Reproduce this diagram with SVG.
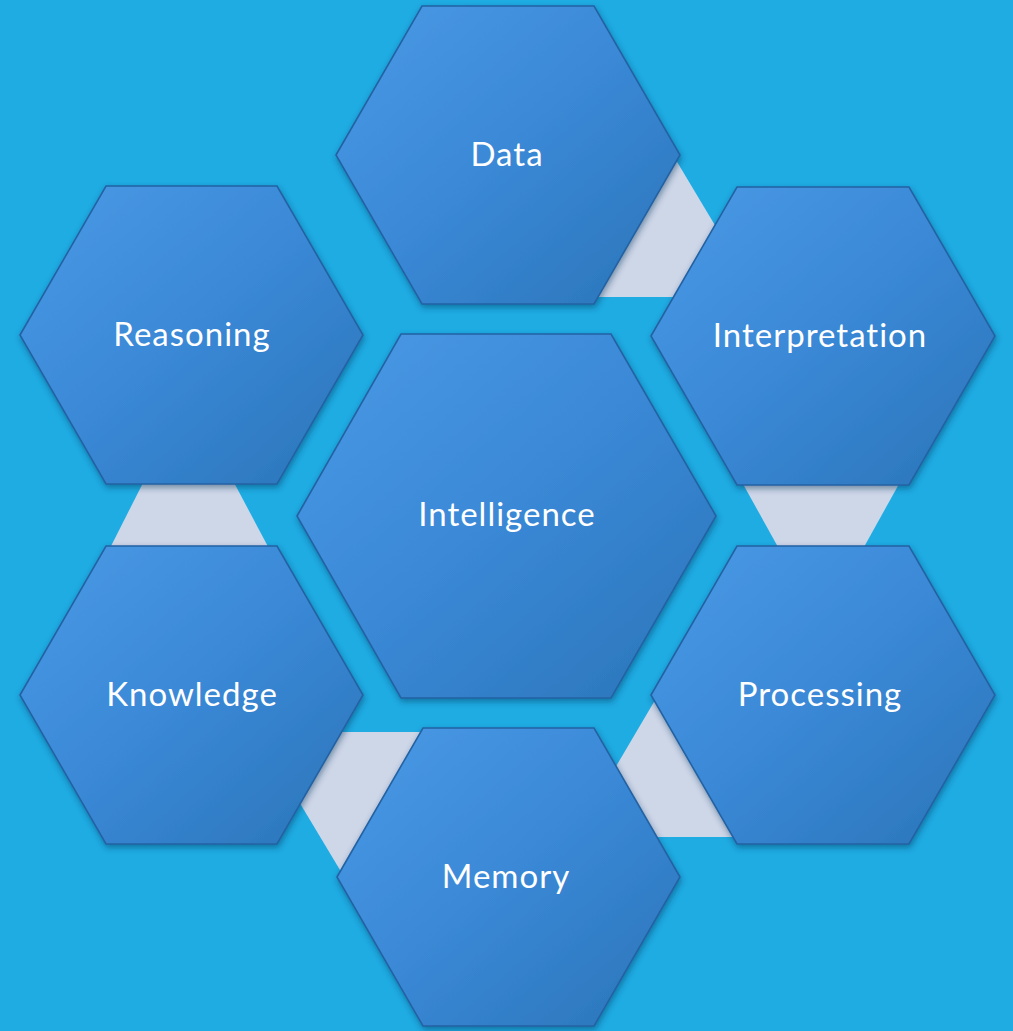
<svg xmlns="http://www.w3.org/2000/svg" width="1013" height="1031" viewBox="0 0 1013 1031">
<style>
.hex{fill:url(#hg);stroke:#2462A3;stroke-width:1.6;filter:url(#sh)}
.lnk{fill:#CDD7E8}
.lbl{font-family:Lato,"Open Sans",sans-serif;font-size:33px;letter-spacing:1px;fill:#FFFFFF;text-anchor:middle}
</style>
<defs>
<linearGradient id="hg" x1="0" y1="0" x2="1" y2="1">
<stop offset="0" stop-color="#4A9AE6"/>
<stop offset="0.5" stop-color="#3A88D6"/>
<stop offset="1" stop-color="#2A74B8"/>
</linearGradient>
<filter id="sh" x="-10%" y="-10%" width="120%" height="125%">
<feDropShadow dx="1" dy="3" stdDeviation="3" flood-color="#0B2F55" flood-opacity="0.45"/>
</filter>
</defs>
<rect x="0" y="0" width="1013" height="1031" fill="#1EACE3"/>
<g id="connectors">
<polygon class="lnk" points="664,140 719,232 700,297 580,297"/>
<polygon class="lnk" points="738,475 904,475 859,556 783,556"/>
<polygon class="lnk" points="661,690 745,690 745,837 640,837 608,780"/>
<polygon class="lnk" points="320,732 440,732 440,880 346,880 292,790"/>
<polygon class="lnk" points="147,475 230,475 273,556 106,556"/>
</g>
<g id="intelligence">
<polygon class="hex" points="297,516 401,334 611,334 716,516 611,698 401,698"/>
<text class="lbl" x="507" y="526">Intelligence</text>
</g>
<g id="data">
<polygon class="hex" points="336,155 422,6 594,6 680,155 594,304 422,304"/>
<text class="lbl" x="507" y="166">Data</text>
</g>
<g id="interpretation">
<polygon class="hex" points="651,336 737,187 909,187 995,336 909,485 737,485"/>
<text class="lbl" x="820" y="347">Interpretation</text>
</g>
<g id="processing">
<polygon class="hex" points="651,695 737,546 909,546 995,695 909,844 737,844"/>
<text class="lbl" x="820" y="706">Processing</text>
</g>
<g id="memory">
<polygon class="hex" points="337,877 423,728 594,728 680,877 594,1026 423,1026"/>
<text class="lbl" x="506" y="888">Memory</text>
</g>
<g id="knowledge">
<polygon class="hex" points="20,695 106,546 277,546 363,695 277,844 106,844"/>
<text class="lbl" x="192" y="706">Knowledge</text>
</g>
<g id="reasoning">
<polygon class="hex" points="20,335 106,186 277,186 363,335 277,484 106,484"/>
<text class="lbl" x="192" y="346">Reasoning</text>
</g>
</svg>
